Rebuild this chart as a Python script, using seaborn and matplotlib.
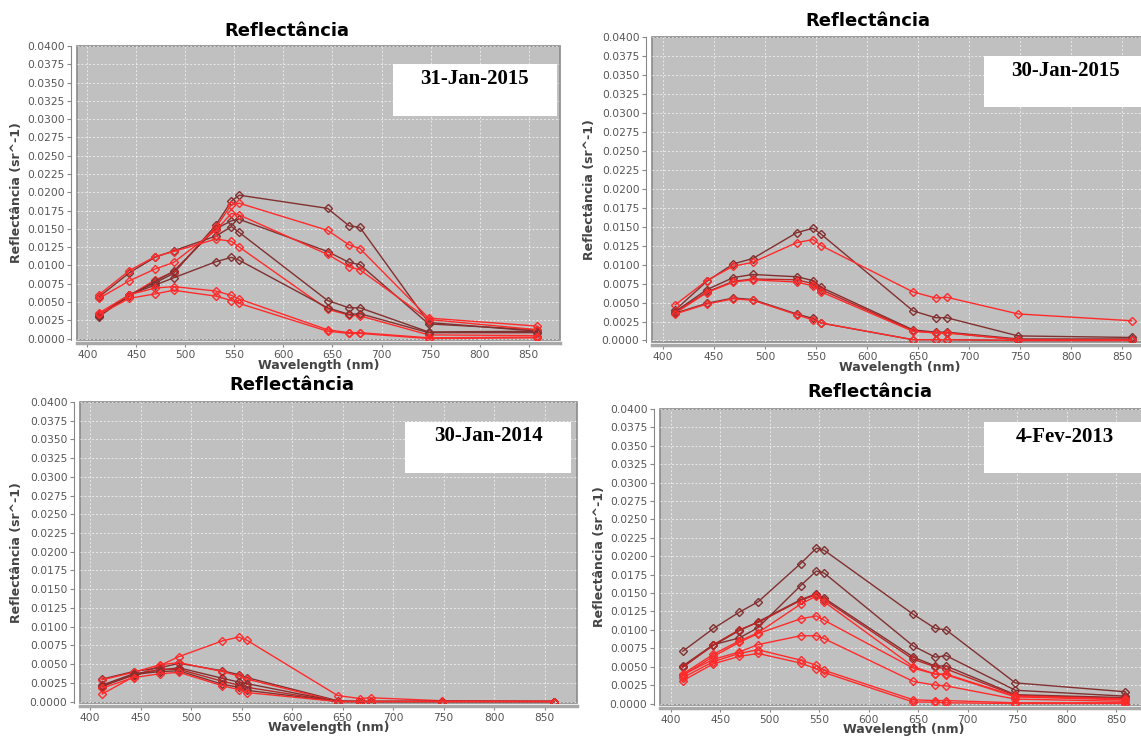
import numpy as np
import matplotlib
matplotlib.use("Agg")
import matplotlib.pyplot as plt
import seaborn as sns
from matplotlib.patches import Rectangle
from matplotlib.ticker import FormatStrFormatter, MultipleLocator

W, H = 1141, 736

# ---------------- data ----------------
wavelengths = [412, 443, 469, 488, 531, 547, 555, 645, 667, 678, 748, 859]

# 31-Jan-2015
refl_31jan2015 = [
    [0.0030, 0.0060, 0.0076, 0.0089, 0.0155, 0.0188, 0.0196, 0.0178, 0.0154, 0.0152, 0.0022, 0.0010],
    [0.0032, 0.0059, 0.0080, 0.0091, 0.0152, 0.0183, 0.0185, 0.0148, 0.0128, 0.0123, 0.0028, 0.0017],
    [0.0031, 0.0058, 0.0078, 0.0092, 0.0150, 0.0161, 0.0163, 0.0119, 0.0104, 0.0101, 0.0020, 0.0012],
    [0.0057, 0.0090, 0.0111, 0.0120, 0.0140, 0.0153, 0.0145, 0.0052, 0.0042, 0.0042, 0.0009, 0.0010],
    [0.0060, 0.0093, 0.0112, 0.0119, 0.0136, 0.0133, 0.0125, 0.0040, 0.0032, 0.0031, 0.0005, 0.0004],
    [0.0055, 0.0079, 0.0095, 0.0104, 0.0148, 0.0171, 0.0169, 0.0115, 0.0098, 0.0094, 0.0026, 0.0012],
    [0.0032, 0.0060, 0.0073, 0.0083, 0.0105, 0.0111, 0.0107, 0.0042, 0.0033, 0.0034, 0.0008, 0.0008],
    [0.0035, 0.0060, 0.0069, 0.0071, 0.0065, 0.0059, 0.0054, 0.0012, 0.0008, 0.0008, 0.0001, 0.0002],
    [0.0033, 0.0055, 0.0061, 0.0066, 0.0058, 0.0052, 0.0048, 0.0010, 0.0007, 0.0007, 0.0000, 0.0001],
]
# 30-Jan-2015
refl_30jan2015 = [
    [0.0040, 0.0078, 0.0101, 0.0108, 0.0142, 0.0148, 0.0140, 0.0039, 0.0030, 0.0030, 0.0006, 0.0004],
    [0.0047, 0.0079, 0.0098, 0.0103, 0.0129, 0.0133, 0.0125, 0.0064, 0.0056, 0.0057, 0.0035, 0.0026],
    [0.0038, 0.0067, 0.0083, 0.0087, 0.0084, 0.0079, 0.0070, 0.0014, 0.0011, 0.0011, 0.0002, 0.0002],
    [0.0037, 0.0064, 0.0078, 0.0081, 0.0080, 0.0075, 0.0067, 0.0013, 0.0010, 0.0010, 0.0001, 0.0001],
    [0.0036, 0.0063, 0.0077, 0.0080, 0.0077, 0.0072, 0.0064, 0.0012, 0.0010, 0.0010, 0.0001, 0.0001],
    [0.0036, 0.0049, 0.0056, 0.0054, 0.0035, 0.0029, 0.0023, 0.0001, 0.0001, 0.0001, 0.0000, 0.0000],
    [0.0035, 0.0048, 0.0055, 0.0053, 0.0034, 0.0027, 0.0023, 0.0001, 0.0001, 0.0001, 0.0000, 0.0000],
]
# 30-Jan-2014
refl_30jan2014 = [
    [0.0010, 0.0033, 0.0048, 0.0060, 0.0081, 0.0086, 0.0082, 0.0008, 0.0004, 0.0005, 0.0001, 0.0000],
    [0.0030, 0.0040, 0.0045, 0.0051, 0.0041, 0.0036, 0.0032, 0.0001, 0.0000, 0.0000, 0.0000, 0.0000],
    [0.0029, 0.0039, 0.0049, 0.0052, 0.0040, 0.0034, 0.0030, 0.0000, 0.0000, 0.0000, 0.0000, 0.0000],
    [0.0022, 0.0037, 0.0042, 0.0045, 0.0031, 0.0026, 0.0024, 0.0000, 0.0000, 0.0000, 0.0000, 0.0000],
    [0.0021, 0.0035, 0.0043, 0.0043, 0.0027, 0.0022, 0.0019, 0.0000, 0.0000, 0.0000, 0.0000, 0.0000],
    [0.0020, 0.0036, 0.0040, 0.0041, 0.0023, 0.0019, 0.0015, 0.0000, 0.0000, 0.0000, 0.0000, 0.0000],
    [0.0018, 0.0032, 0.0037, 0.0039, 0.0021, 0.0016, 0.0012, 0.0000, 0.0000, 0.0000, 0.0000, 0.0000],
]
# 4-Fev-2013
refl_4fev2013 = [
    [0.0071, 0.0102, 0.0124, 0.0138, 0.0190, 0.0211, 0.0208, 0.0121, 0.0102, 0.0100, 0.0028, 0.0016],
    [0.0051, 0.0080, 0.0089, 0.0103, 0.0160, 0.0180, 0.0177, 0.0078, 0.0063, 0.0065, 0.0018, 0.0010],
    [0.0050, 0.0079, 0.0099, 0.0111, 0.0141, 0.0149, 0.0143, 0.0063, 0.0051, 0.0051, 0.0012, 0.0008],
    [0.0049, 0.0080, 0.0100, 0.0110, 0.0140, 0.0148, 0.0141, 0.0060, 0.0050, 0.0047, 0.0011, 0.0007],
    [0.0040, 0.0067, 0.0085, 0.0096, 0.0135, 0.0146, 0.0138, 0.0050, 0.0040, 0.0040, 0.0010, 0.0006],
    [0.0038, 0.0064, 0.0083, 0.0095, 0.0115, 0.0119, 0.0113, 0.0048, 0.0040, 0.0039, 0.0009, 0.0005],
    [0.0039, 0.0060, 0.0070, 0.0080, 0.0092, 0.0092, 0.0088, 0.0030, 0.0025, 0.0024, 0.0006, 0.0003],
    [0.0035, 0.0057, 0.0068, 0.0073, 0.0059, 0.0052, 0.0045, 0.0005, 0.0004, 0.0004, 0.0001, 0.0001],
    [0.0031, 0.0054, 0.0064, 0.0068, 0.0055, 0.0047, 0.0042, 0.0002, 0.0002, 0.0001, 0.0000, 0.0000],
]

dates = ["31-Jan-2015", "30-Jan-2015", "30-Jan-2014", "4-Fev-2013"]

# ---------------- styles ----------------
DARK, MID, RED = "#823030", "#bb2525", "#ff2b2b"
colors = [
    [DARK, RED, DARK, DARK, RED, RED, DARK, RED, RED],
    [DARK, RED, DARK, MID, RED, DARK, RED],
    [RED, DARK, RED, DARK, MID, DARK, RED],
    [DARK, DARK, DARK, MID, RED, RED, RED, RED, RED],
]

# pixel layout: plot area (left, top, right, bottom)
plot_px = [(77, 46, 560, 340), (652, 37, 1155, 342), (80, 402, 577, 703), (660, 409, 1148, 705)]
xlims = [(389.5, 882), (389.3, 882), (390, 882), (389, 882)]
title_px = [(287, 31), (868, 21), (292, 385), (870, 392)]
xlabel_y = [366, 368, 727, 729]
ylabel_x = [17, 589, 17, 599]
box_px = [(393, 64, 557, 116), (984, 56, 1165, 107), (405, 422, 571, 473), (984, 422, 1165, 473)]
date_px = [(474, 79), (1065, 71), (488, 436), (1065, 437)]


def fx(x):
    return x / W


def fy(y):
    return 1 - y / H


fig = plt.figure(figsize=(W / 100, H / 100), dpi=100)
fig.patch.set_facecolor("white")

panels = [refl_31jan2015, refl_30jan2015, refl_30jan2014, refl_4fev2013]

for i, series in enumerate(panels):
    l, t, r, b = plot_px[i]
    ax = fig.add_axes([fx(l), fy(b), (r - l) / W, (b - t) / H])
    ax.set_facecolor("#c0c0c0")
    ax.patch.set_edgecolor("#8a8a8a")
    ax.patch.set_linewidth(1.2)

    for vals, c in zip(series, colors[i]):
        sns.lineplot(x=wavelengths, y=vals, ax=ax, color=c, linewidth=1,
                     marker="D", markersize=4.5, markerfacecolor="none",
                     markeredgecolor=c, markeredgewidth=1)

    ax.set_xlim(*xlims[i])
    ax.set_ylim(-0.0002, 0.04)
    ax.xaxis.set_major_locator(MultipleLocator(50))
    ax.yaxis.set_major_locator(MultipleLocator(0.0025))
    ax.yaxis.set_major_formatter(FormatStrFormatter("%.4f"))
    ax.grid(True, color="white", linestyle=(0, (2, 2)), linewidth=0.7, alpha=0.65)
    ax.set_axisbelow(True)

    for s in ["top", "right"]:
        ax.spines[s].set_visible(False)
    ax.spines["left"].set_position(("outward", 4))
    ax.spines["left"].set_color("#888888")
    ax.spines["bottom"].set_position(("outward", 2))
    ax.spines["bottom"].set_color("#a8a8a8")
    ax.spines["bottom"].set_linewidth(2.5)
    ax.tick_params(axis="both", labelsize=7.7, labelcolor="#555555", color="#888888",
                   length=3, width=0.8, direction="out", pad=2)
    ax.set_xlabel("")
    ax.set_ylabel("")

    # titles and axis labels
    fig.text(fx(title_px[i][0]), fy(title_px[i][1]), "Reflectância", ha="center", va="center",
             fontsize=13, fontweight="bold", color="black")
    fig.text(fx((l + min(r, 1148)) / 2), fy(xlabel_y[i]), "Wavelength (nm)",
             ha="center", va="center", fontsize=9, fontweight="bold", color="#444444")
    fig.text(fx(ylabel_x[i]), fy((t + b) / 2), "Reflectância (sr^-1)", ha="center", va="center",
             rotation=90, fontsize=9, fontweight="bold", color="#444444")

    # date box
    x0, y0, x1, y1 = box_px[i]
    fig.add_artist(Rectangle((fx(x0), fy(y1)), (x1 - x0) / W, (y1 - y0) / H,
                             transform=fig.transFigure, facecolor="white", edgecolor="none", zorder=5))
    fig.text(fx(date_px[i][0]), fy(date_px[i][1]), dates[i], ha="center", va="center",
             fontsize=15, fontweight="bold", family="Liberation Serif", color="black", zorder=6)

fig.savefig("out.png", dpi=100)
